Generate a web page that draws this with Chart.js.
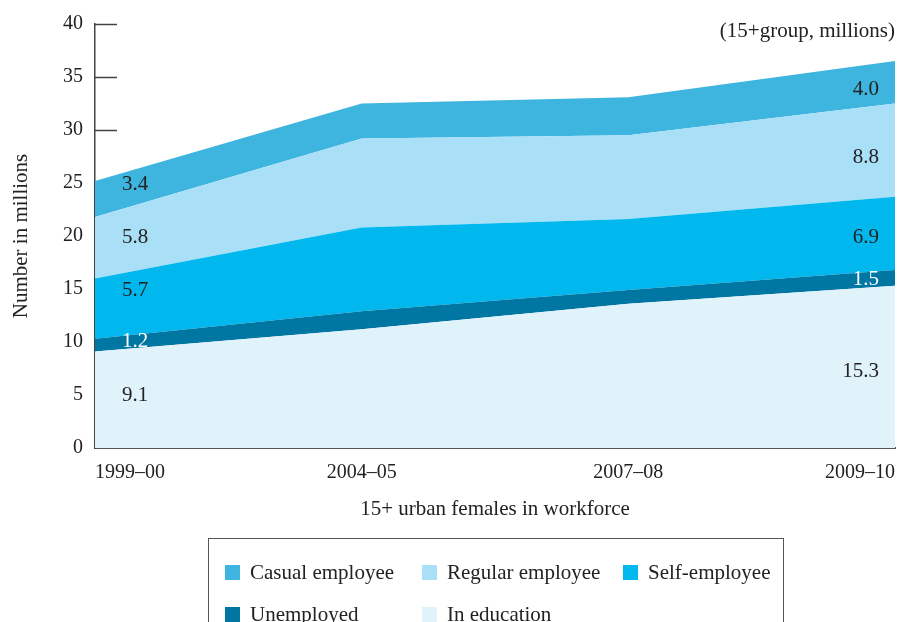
<!DOCTYPE html>
<html>
<head>
<meta charset="utf-8">
<script src="https://cdn.jsdelivr.net/npm/chart.js@4.4.1/dist/chart.umd.min.js"></script>
<style>
  body { margin: 0; background: #fff; overflow: hidden; }
  #wrap { position: relative; width: 902px; height: 622px; }
  #chart { position: absolute; left: 0; top: 0; }
  #legend {
    position: absolute; left: 208px; top: 538px; width: 576px; height: 110px;
    border: 1.5px solid #555; box-sizing: border-box;
    font-family: "Liberation Serif", "DejaVu Serif", serif; font-size: 21px; color: #222;
  }
  .item { position: absolute; display: flex; align-items: center; }
  .item span.box { width: 15px; height: 15px; margin-right: 10px; }
</style>
</head>
<body>
<div id="wrap">
  <canvas id="chart" width="902" height="622"></canvas>
  <div id="legend"></div>
</div>
<script>
const years = ["1999–00", "2004–05", "2007–08", "2009–10"];

// stacked bottom to top
const inEducation = [9.1, 11.2, 13.6, 15.3];
const unemployed = [1.2, 1.7, 1.3, 1.5];
const selfEmployee = [5.7, 7.9, 6.7, 6.9];
const regularEmployee = [5.8, 8.4, 7.9, 8.8];
const casualEmployee = [3.4, 3.3, 3.6, 4.0];

const yTicks = [0, 5, 10, 15, 20, 25, 30, 35, 40];

const colors = {
  casual: "#3db5de",
  regular: "#aadff8",
  self: "#00b8ee",
  unemployed: "#0076a3",
  education: "#e0f2fa"
};

const FONT = '"Liberation Serif", "DejaVu Serif", serif';

const series = [
  { label: "In education", data: inEducation, color: colors.education, text: "#222", posStart: 0.54, posEnd: 0.47 },
  { label: "Unemployed", data: unemployed, color: colors.unemployed, text: "#fff", posStart: 0.8, posEnd: 0.4 },
  { label: "Self-employee", data: selfEmployee, color: colors.self, text: "#222", posStart: 0.8, posEnd: 0.44 },
  { label: "Regular employee", data: regularEmployee, color: colors.regular, text: "#222", posStart: 0.67, posEnd: 0.42 },
  { label: "Casual employee", data: casualEmployee, color: colors.casual, text: "#222", posStart: 0.9, posEnd: 0.33 }
];

// short tick marks drawn inside the plot, under the areas
const innerTicks = {
  id: "innerTicks",
  beforeDatasetsDraw(chart) {
    const { ctx, chartArea, scales } = chart;
    ctx.save();
    ctx.strokeStyle = "#444";
    ctx.lineWidth = 1.5;
    yTicks.forEach(v => {
      if (v === 0) return;
      const y = Math.round(scales.y.getPixelForValue(v)) + 0.5;
      ctx.beginPath();
      ctx.moveTo(chartArea.left, y);
      ctx.lineTo(chartArea.left + 22, y);
      ctx.stroke();
    });
    ctx.restore();
  }
};

// value labels at the first and last year
const valueLabels = {
  id: "valueLabels",
  afterDatasetsDraw(chart) {
    const { ctx, chartArea, scales } = chart;
    const last = years.length - 1;
    ctx.save();
    ctx.font = "21px " + FONT;
    ctx.textBaseline = "middle";
    let base0 = 0, baseN = 0;
    series.forEach(s => {
      const v0 = s.data[0], vN = s.data[last];
      ctx.fillStyle = s.text;
      ctx.textAlign = "left";
      ctx.fillText(v0.toFixed(1), chartArea.left + 27, scales.y.getPixelForValue(base0 + v0 * s.posStart));
      ctx.textAlign = "right";
      ctx.fillText(vN.toFixed(1), chartArea.right - 16, scales.y.getPixelForValue(baseN + vN * s.posEnd));
      base0 += v0;
      baseN += vN;
    });
    ctx.fillStyle = "#222";
    ctx.textAlign = "right";
    ctx.fillText("(15+group, millions)", chartArea.right, 31);
    ctx.restore();
  }
};

const ctx = document.getElementById("chart").getContext("2d");

new Chart(ctx, {
  type: "line",
  data: {
    labels: years,
    datasets: series.map((s, i) => ({
      label: s.label,
      data: s.data,
      backgroundColor: s.color,
      borderWidth: 0,
      pointRadius: 0,
      tension: 0,
      fill: i === 0 ? "origin" : "-1"
    }))
  },
  options: {
    responsive: false,
    animation: false,
    layout: { padding: { left: 9, right: 7, top: 23, bottom: 100 } },
    plugins: { legend: { display: false }, tooltip: { enabled: false } },
    scales: {
      x: {
        offset: false,
        grid: { display: false, drawTicks: false },
        border: { display: true, color: "#555", width: 2 },
        ticks: { color: "#222", font: { family: FONT, size: 20 }, padding: 13, align: "inner", maxRotation: 0 },
        title: { display: true, text: "15+ urban females in workforce", color: "#222", font: { family: FONT, size: 21 }, padding: 0 },
        afterFit(scale) {
          scale.height = 74;
          scale.paddingLeft = 0;
          scale.paddingRight = 0;
        }
      },
      y: {
        stacked: true,
        min: 0,
        max: 40,
        afterBuildTicks(scale) { scale.ticks = yTicks.map(v => ({ value: v })); },
        grid: { display: false, drawTicks: false },
        border: { display: true, color: "#444", width: 1.5 },
        ticks: { color: "#222", font: { family: FONT, size: 20 }, padding: 12 },
        title: { display: true, text: "Number in millions", color: "#222", font: { family: FONT, size: 21 }, padding: 0 },
        afterFit(scale) { scale.width = 86; }
      }
    }
  },
  plugins: [innerTicks, valueLabels]
});

// legend laid out in two rows inside a bordered box
const legendItems = [
  { label: "Casual employee", color: colors.casual, x: 16, y: 33 },
  { label: "Regular employee", color: colors.regular, x: 213, y: 33 },
  { label: "Self-employee", color: colors.self, x: 414, y: 33 },
  { label: "Unemployed", color: colors.unemployed, x: 16, y: 75 },
  { label: "In education", color: colors.education, x: 213, y: 75 }
];
const legend = document.getElementById("legend");
legendItems.forEach(it => {
  const el = document.createElement("div");
  el.className = "item";
  el.style.left = it.x + "px";
  el.style.top = (it.y - 12) + "px";
  el.style.height = "24px";
  el.innerHTML = '<span class="box" style="background:' + it.color + '"></span><span>' + it.label + "</span>";
  legend.appendChild(el);
});
</script>
</body>
</html>
